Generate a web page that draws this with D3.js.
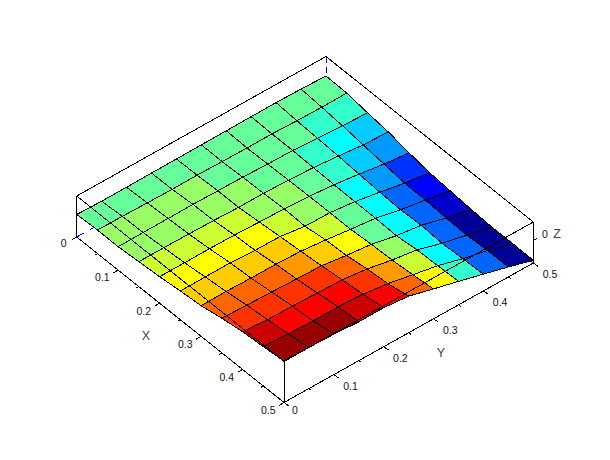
<!DOCTYPE html>
<html><head><meta charset="utf-8">
<script src="https://cdn.jsdelivr.net/npm/d3@7/dist/d3.min.js"></script>
<style>html,body{margin:0;padding:0;background:#fff}svg{display:block}text{font-family:"Liberation Sans",Arial,sans-serif}</style>
</head><body><svg id="c" width="610" height="460"></svg>
<script>
const xValues=[0,.05,.1,.15,.2,.25,.3,.35,.4,.45,.5];
const yValues=[0,.05,.1,.15,.2,.25,.3,.35,.4,.45,.5];
const xTicks=[0,.1,.2,.3,.4,.5];
const yTicks=[0,.1,.2,.3,.4,.5];
const xTickLabels=["0","0.1","0.2","0.3","0.4","0.5"];
const yTickLabels=["0","0.1","0.2","0.3","0.4","0.5"];
const palette=["#000099","#0000cc","#0000ff","#0033ff","#0066ff","#0099ff","#00ccff","#00ffff","#33ffcc","#66ff99","#99ff66","#ccff33","#ffff00","#ffcc00","#ff9900","#ff6600","#ff3300","#ff0000","#cc0000","#990000"];
const zGrid=[
[1.5,.8,.9,1.1,1.2,1.4,1.5,1.7,1.8,1.4,.5],
[2.5,2.3,1.8,1.4,1.6,1.2,.9,1,.2,-.2,0],
[2.4,2.6,2.7,2.9,2.5,2.2,1.3,1,-.9,-2.3,-3.1],
[4,4,3.7,3.3,2.5,2.6,1.8,.4,-2,-4.8,-5.7],
[5.5,5.5,5.6,5.3,4.4,3.6,2.2,-.2,-3.5,-7.4,-10],
[7.8,7.9,8.1,6.6,6.4,2.7,2.4,-.6,-5,-9.9,-13.5],
[9.6,9.9,9.3,9.2,8.3,5.6,2.3,-.6,-6.1,-10.3,-15.2],
[13.6,12.8,12,11.1,10.3,6.7,3.9,-1.5,-5,-11.7,-17],
[16.7,14.8,14.4,13.6,12.9,9.7,4.7,.9,-6.5,-12.4,-18.2],
[18.3,17.2,16.2,16.3,14.9,11.6,6.5,1.6,-5.3,-11.1,-18.1],
[20.5,20.2,19.4,17.8,18,15.6,8.9,2.5,-4.2,-11,-18.3]];
const facetLevels=[
[9,9,9,9,9,9,9,9,9,9],
[10,10,10,10,9,9,9,9,8,8],
[10,10,10,10,10,9,9,8,7,6],
[11,11,11,11,10,10,9,8,6,5],
[12,12,12,12,11,10,9,7,5,3],
[13,13,13,13,12,11,9,7,4,2],
[15,15,15,14,13,12,9,7,4,1],
[16,16,16,16,15,13,10,7,4,0],
[18,17,17,17,16,14,11,7,4,0],
[19,19,19,18,17,15,12,8,4,0]];

const LB=[76.7,237],FB=[284,402.5],RB=[533.3,263];
const zMin=-21,zMax=20,zTickAt=1.5;
const xs=d3.scaleLinear().domain([0,.5]).range([0,1]);
const ys=d3.scaleLinear().domain([0,.5]).range([0,1]);
const zs=d3.scaleLinear().domain([zMin,zMax]).range([0,-41]);
const color=d3.scaleQuantize().domain([0,20]).range(palette);
function P(x,y,z){const a=xs(x),b=ys(y);
  return [LB[0]+a*(FB[0]-LB[0])+b*(RB[0]-FB[0]), LB[1]+a*(FB[1]-LB[1])+b*(RB[1]-FB[1])+zs(z)];}
const svg=d3.select("#c");
svg.append("rect").attr("width",610).attr("height",460).attr("fill","#fff");
const g=svg.append("g").attr("shape-rendering","crispEdges");
const seg=(a,b,cl,dash)=>g.append("line").attr("x1",a[0]).attr("y1",a[1]).attr("x2",b[0]).attr("y2",b[1]).attr("stroke",cl||"#000").attr("stroke-width",1).attr("stroke-dasharray",dash||null);
const c000=P(0,0,zMin),c100=P(.5,0,zMin),c110=P(.5,.5,zMin),c010=P(0,.5,zMin);
const c001=P(0,0,zMax),c101=P(.5,0,zMax),c111=P(.5,.5,zMax),c011=P(0,.5,zMax);
// hidden edges
seg(c000,c010,"#0000ff","9,6");seg(c110,c010,"#0000ff","9,6");seg(c011,c010,"#0000ff","6,4");
// back box edges
seg(c001,c000);seg(c001,c011);seg(c011,c111);
// facets back to front
const cells=[];
for(let i=0;i<10;i++)for(let j=9;j>=0;j--)cells.push({i,j});
g.selectAll("polygon.f").data(cells).join("polygon").attr("class","f")
 .attr("points",d=>[[d.i,d.j],[d.i+1,d.j],[d.i+1,d.j+1],[d.i,d.j+1]].map(([a,b])=>P(xValues[a],yValues[b],zGrid[a][b]).join(",")).join(" "))
 .attr("fill",d=>color(facetLevels[d.i][d.j]+.5)).attr("stroke","#000").attr("stroke-width",1);
// front box edges
seg(c001,c101);seg(c101,c111);seg(c111,c110);seg(c101,c100);
// axes
seg(c000,c100);seg(c100,c110);
xValues.forEach((v,k)=>{const p=P(v,0,zMin),f=k%2===0?1:.5;seg(p,[p[0]-5*f,p[1]+3*f]);});
yValues.forEach((v,k)=>{const p=P(.5,v,zMin),f=k%2===0?1:.5;seg(p,[p[0]+5*f,p[1]+3.5*f]);});
const z0=P(.5,.5,zTickAt);seg(z0,[z0[0]+4,z0[1]-2.5]);
const T=svg.append("g");
const lab=(s,x,y,fs,col)=>T.append("text").attr("x",x).attr("y",y).attr("font-size",fs).attr("text-anchor","middle").attr("fill",col||"#111").text(s);
xTickLabels.forEach((s,k)=>{const p=P(xTicks[k],0,zMin);lab(s,p[0]+(k==0?-13:-15.8),p[1]+(k==0?9.8:11.3),10.5);});
yTickLabels.forEach((s,k)=>{const p=P(.5,yTicks[k],zMin);lab(s,p[0]+(k==0?11:16.7),p[1]+(k==0?11.3:15.3),10.5);});
lab("0",545,238,10.5);
lab("Z",557,238,12.5,"#444");lab("X",146,339.5,12.5,"#444");lab("Y",441,356.5,12.5,"#444");
</script></body></html>
